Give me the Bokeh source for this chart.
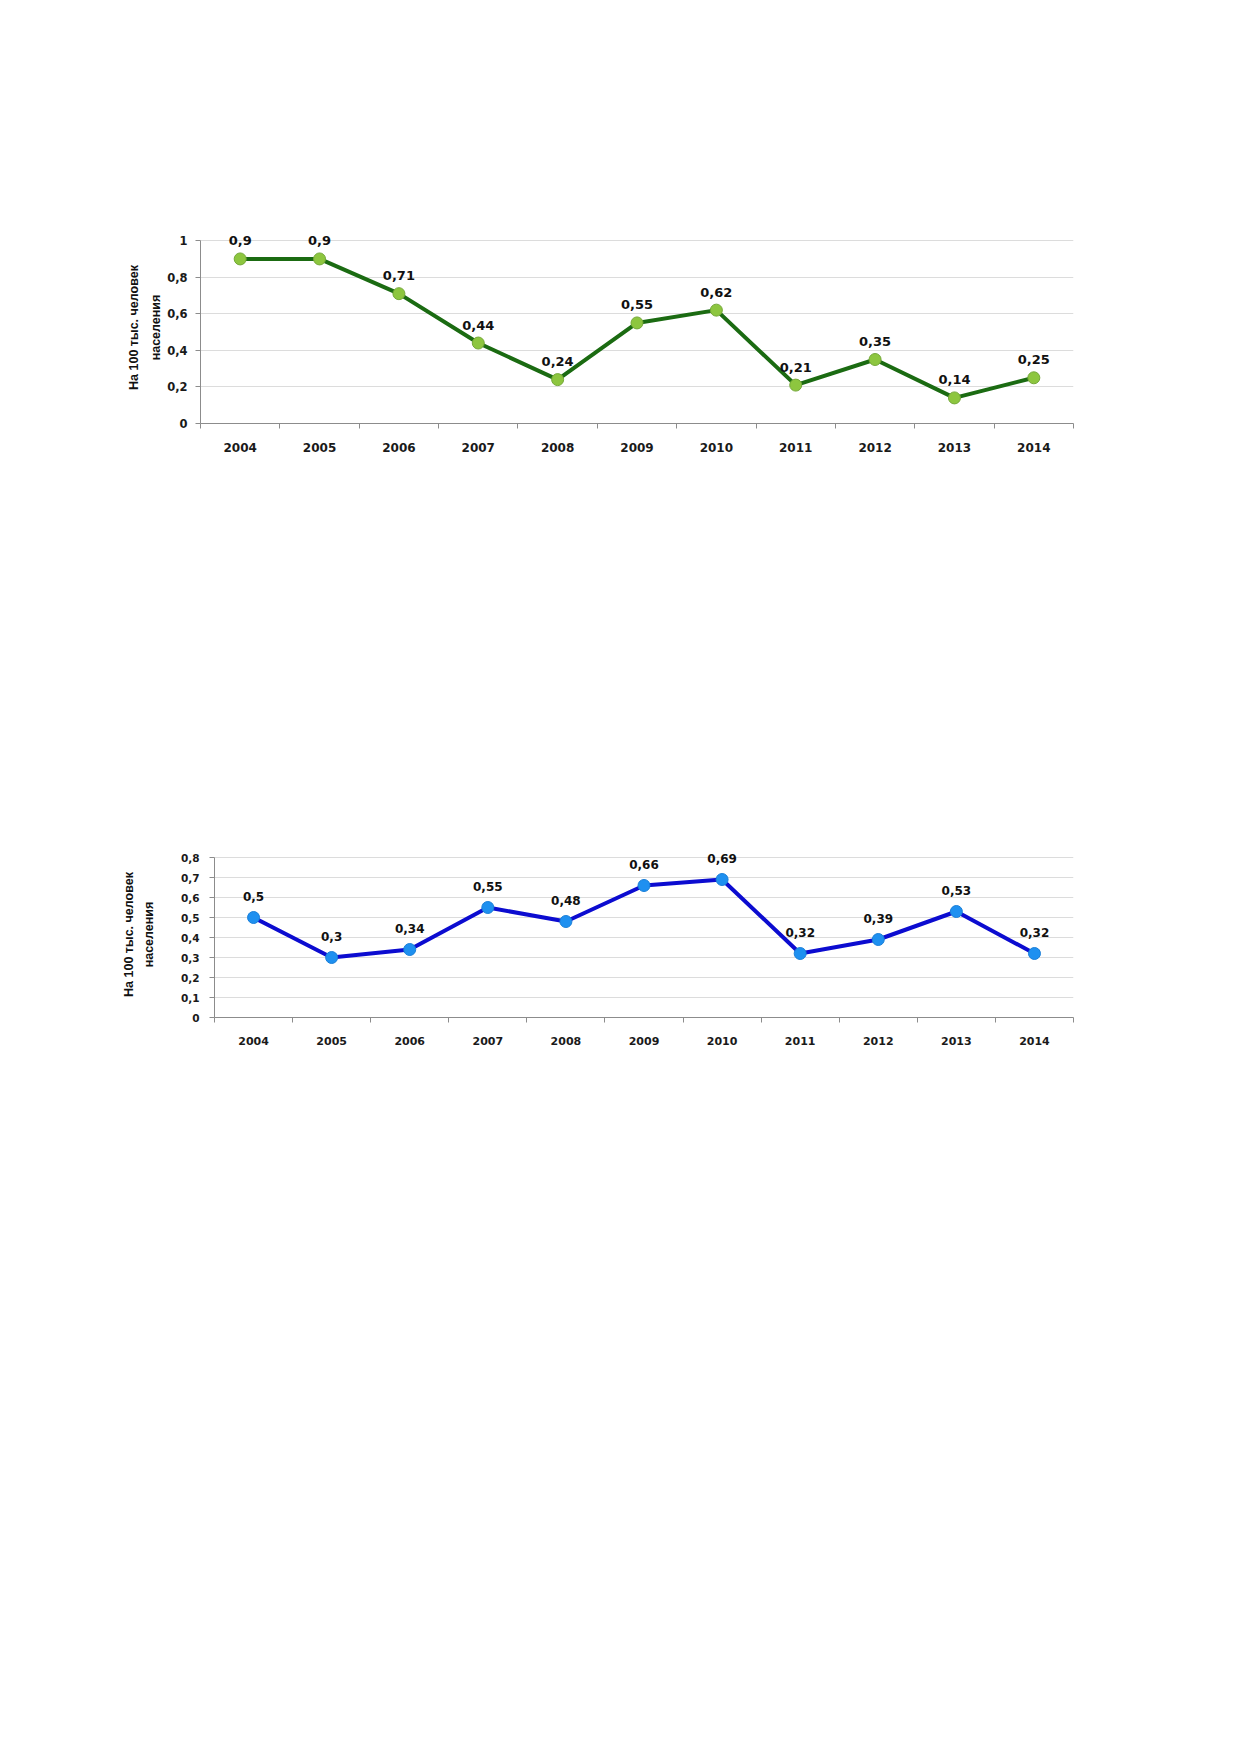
from bokeh.plotting import figure
from bokeh.models import Range1d, FixedTicker, CustomJSTickFormatter, ColumnDataSource, LabelSet
from bokeh.core.properties import value
from bokeh.embed import file_html
from bokeh.resources import INLINE

years = ["2004", "2005", "2006", "2007", "2008", "2009", "2010", "2011", "2012", "2013", "2014"]
values_1 = [0.9, 0.9, 0.71, 0.44, 0.24, 0.55, 0.62, 0.21, 0.35, 0.14, 0.25]
values_2 = [0.5, 0.3, 0.34, 0.55, 0.48, 0.66, 0.69, 0.32, 0.39, 0.53, 0.32]
yticks_1 = [0, 0.2, 0.4, 0.6, 0.8, 1.0]
yticks_2 = [0, 0.1, 0.2, 0.3, 0.4, 0.5, 0.6, 0.7, 0.8]
y_title = "На 100 тыс. человек\nнаселения"

TICK_FONT = "DejaVu Sans"
TITLE_FONT = "Liberation Sans"
AXIS_COLOR = "#8c8c8c"
GRID_COLOR = "#dcdcdc"


def fmt_label(v):
    s = ("%.2f" % v).rstrip("0").rstrip(".")
    return s.replace(".", ",")


def make_chart(values, yticks, ymax, ytop, line_color, fill_color, edge_color,
               min_left, frame_w, min_top, frame_h, y_font, x_font, lab_font,
               y_standoff, title_standoff, title_lh, lab_offset):
    xs = [i + 0.5 for i in range(len(years))]
    src = ColumnDataSource(dict(x=xs, y=values, lab=[fmt_label(v) for v in values]))
    p = figure(output_backend="svg", toolbar_location=None,
               x_range=Range1d(0, len(years)), y_range=Range1d(0, ytop),
               frame_width=frame_w, frame_height=frame_h,
               min_border_left=min_left, min_border_right=20,
               min_border_top=min_top, min_border_bottom=60,
               background_fill_color="white", border_fill_color="white",
               outline_line_color=None)
    # x axis: labels at category centres, tick marks at category boundaries
    xa = p.xaxis[0]
    xa.ticker = FixedTicker(ticks=xs, minor_ticks=list(range(len(years) + 1)))
    xa.major_label_overrides = {x: y for x, y in zip(xs, years)}
    xa.major_tick_line_color = None
    xa.major_tick_out = 5
    xa.major_tick_in = 0
    xa.minor_tick_line_color = AXIS_COLOR
    xa.minor_tick_out = 5
    xa.minor_tick_in = 0
    xa.axis_line_color = AXIS_COLOR
    xa.major_label_text_font = TICK_FONT
    xa.major_label_text_font_style = "bold"
    xa.major_label_text_font_size = x_font
    xa.major_label_text_color = "#1a1a1a"
    xa.major_label_standoff = 14
    # y axis
    ya = p.yaxis[0]
    ya.ticker = FixedTicker(ticks=yticks)
    ya.bounds = (0, ymax)
    ya.formatter = CustomJSTickFormatter(code="var s = (Math.round(tick*10)/10).toString(); return s.replace('.', ',');")
    ya.major_tick_line_color = AXIS_COLOR
    ya.major_tick_out = 5
    ya.major_tick_in = 0
    ya.minor_tick_line_color = None
    ya.axis_line_color = AXIS_COLOR
    ya.major_label_text_font = TICK_FONT
    ya.major_label_text_font_style = "bold"
    ya.major_label_text_font_size = y_font
    ya.major_label_text_color = "#1a1a1a"
    ya.major_label_standoff = y_standoff
    ya.axis_label = y_title
    ya.axis_label_text_font = TITLE_FONT
    ya.axis_label_text_font_style = "bold"
    ya.axis_label_text_font_size = "12.5px"
    ya.axis_label_text_line_height = title_lh
    ya.axis_label_text_color = "#111111"
    ya.axis_label_standoff = title_standoff
    p.xgrid.visible = False
    p.ygrid.ticker = FixedTicker(ticks=yticks)
    p.ygrid.grid_line_color = GRID_COLOR
    p.ygrid.grid_line_width = 1

    p.line("x", "y", source=src, line_color=line_color, line_width=4)
    p.scatter("x", "y", source=src, size=12, fill_color=fill_color,
              line_color=edge_color, line_width=1)
    labels = LabelSet(x="x", y="y", text="lab", source=src, y_offset=lab_offset,
                      text_align="center", text_baseline="middle",
                      text_font=value(TICK_FONT), text_font_style="bold",
                      text_font_size=value(lab_font), text_color="#111111")
    p.add_layout(labels)
    return p


p1 = make_chart(values_1, yticks_1, 1.0, 1.05, "#1b6b12", "#8dc63f", "#74a838",
                200, 873, 231, 192, "11.5px", "12px", "13px", 8, 1, 1.55, 18)
p2 = make_chart(values_2, yticks_2, 0.8, 0.83, "#0c0cd0", "#1e90f0", "#1a7fd8",
                214, 859, 368, 166, "10.5px", "11px", "12px", 10, 22, 1.45, 21)

open("out.html", "w").write(file_html([p1, p2], INLINE))
